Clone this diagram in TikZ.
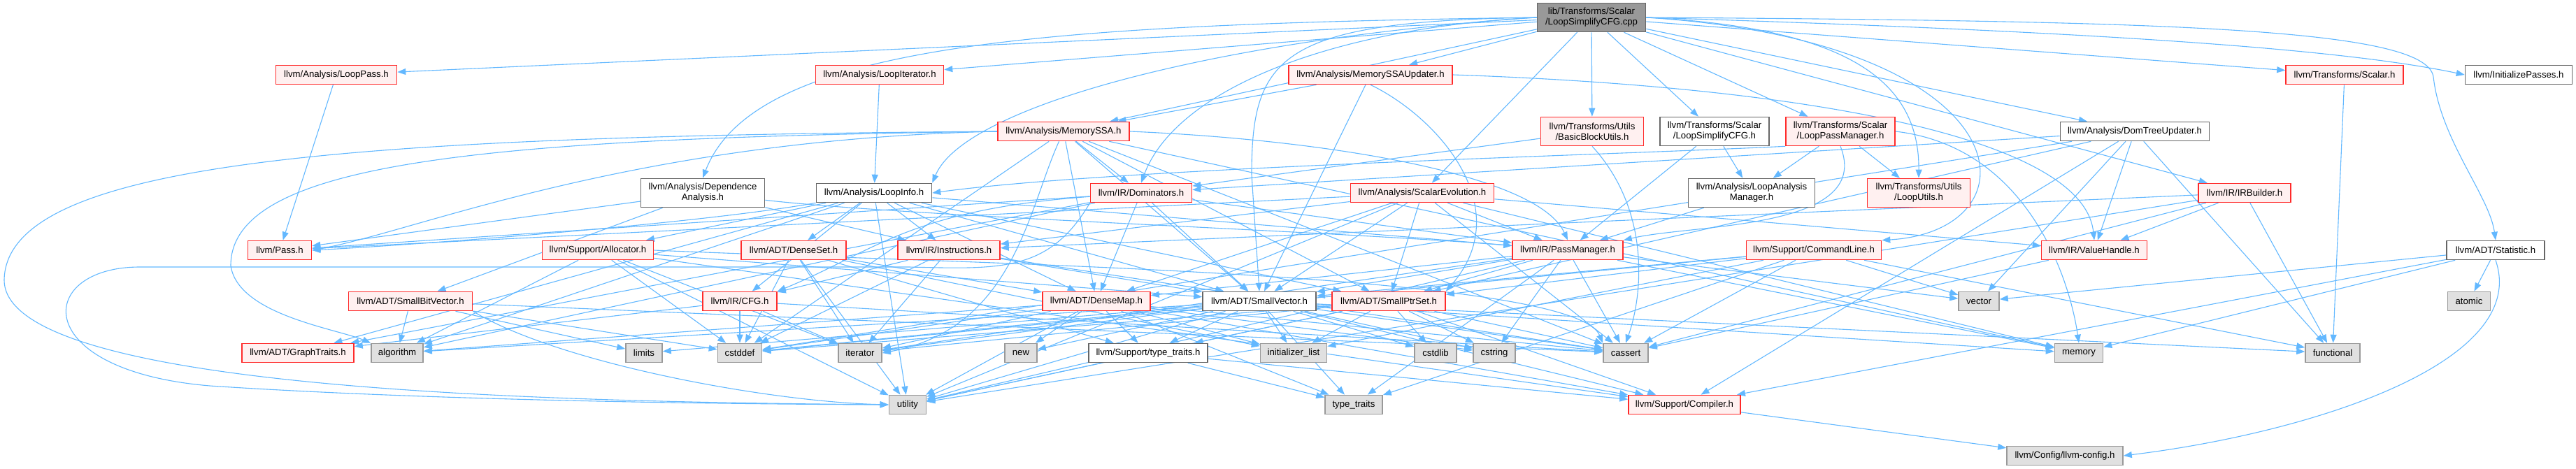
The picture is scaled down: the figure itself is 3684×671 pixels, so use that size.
\documentclass[tikz,border=0pt]{standalone}
\usepackage{fontspec}
\setmainfont{Liberation Sans}
\usetikzlibrary{arrows.meta}
\pgfdeclarelayer{background}
\pgfsetlayers{background,main}
\definecolor{edgecol}{HTML}{63B8FF}
\definecolor{redfill}{HTML}{FFF0F0}
\definecolor{redline}{HTML}{FF2A2A}
\definecolor{grayfill}{HTML}{E0E0E0}
\definecolor{grayline}{HTML}{999999}
\definecolor{darkline}{HTML}{666666}
\definecolor{rootfill}{HTML}{999999}
\begin{document}
\begin{tikzpicture}[x=1pt,y=-1pt,
  font=\fontsize{13.2}{15}\selectfont,
  box/.style={rectangle, inner sep=0pt, minimum height=27pt, line width=1.6pt, align=center, text=black},
  rn/.style={box, draw=redline, fill=redfill},
  gn/.style={box, draw=grayline, fill=grayfill},
  wn/.style={box, draw=darkline, fill=white},
  rootnode/.style={box, draw=darkline, fill=rootfill},
  tall/.style={minimum height=41pt},
  e/.style={draw=edgecol, line width=1.1pt, -{Triangle[length=12pt,width=9pt]}}]
\useasboundingbox (0,0) rectangle (3684,671);
% row 1
\node[rootnode, tall, minimum width=155pt] (root) at (2276,25) {lib/Transforms/Scalar\\/LoopSimplifyCFG.cpp};
% row 2
\node[rn, minimum width=173pt] (LoopPass) at (481,107) {llvm/Analysis/LoopPass.h};
\node[rn, minimum width=183pt] (LoopIterator) at (1258,107) {llvm/Analysis/LoopIterator.h};
\node[rn, minimum width=234pt] (MemorySSAUpdater) at (1960,107) {llvm/Analysis/MemorySSAUpdater.h};
\node[rn, minimum width=168pt] (Scalar) at (3353,107) {llvm/Transforms/Scalar.h};
\node[wn, minimum width=153pt] (InitializePasses) at (3602,107) {llvm/InitializePasses.h};
% row 3
\node[rn, minimum width=188pt] (MemorySSA) at (1521,188) {llvm/Analysis/MemorySSA.h};
\node[rn, tall, minimum width=147pt] (BasicBlockUtils) at (2277,188) {llvm/Transforms/Utils\\/BasicBlockUtils.h};
\node[wn, tall, minimum width=156pt] (LoopSimplifyCFGh) at (2452,188) {llvm/Transforms/Scalar\\/LoopSimplifyCFG.h};
\node[rn, tall, minimum width=156pt] (LoopPassManager) at (2632,188) {llvm/Transforms/Scalar\\/LoopPassManager.h};
\node[wn, minimum width=213pt] (DomTreeUpdater) at (3053,188) {llvm/Analysis/DomTreeUpdater.h};
% row 4
\node[wn, tall, minimum width=177pt] (DependenceAnalysis) at (1005,276) {llvm/Analysis/Dependence\\Analysis.h};
\node[wn, minimum width=165pt] (LoopInfo) at (1250,276) {llvm/Analysis/LoopInfo.h};
\node[rn, minimum width=145pt] (Dominators) at (1632,276) {llvm/IR/Dominators.h};
\node[rn, minimum width=205pt] (ScalarEvolution) at (2034,276) {llvm/Analysis/ScalarEvolution.h};
\node[wn, tall, minimum width=181pt] (LoopAnalysisManager) at (2505,276) {llvm/Analysis/LoopAnalysis\\Manager.h};
\node[rn, tall, minimum width=147pt] (LoopUtils) at (2744,276) {llvm/Transforms/Utils\\/LoopUtils.h};
\node[rn, minimum width=132pt] (IRBuilder) at (3210,276) {llvm/IR/IRBuilder.h};
% row 5
\node[rn, minimum width=91pt] (Pass) at (400,358) {llvm/Pass.h};
\node[rn, minimum width=159pt] (Allocator) at (855,358) {llvm/Support/Allocator.h};
\node[rn, minimum width=150pt] (DenseSet) at (1135,358) {llvm/ADT/DenseSet.h};
\node[rn, minimum width=146pt] (Instructions) at (1357,358) {llvm/IR/Instructions.h};
\node[rn, minimum width=158pt] (PassManager) at (2242,358) {llvm/IR/PassManager.h};
\node[rn, minimum width=193pt] (CommandLine) at (2594,358) {llvm/Support/CommandLine.h};
\node[rn, minimum width=151pt] (ValueHandle) at (2995,358) {llvm/IR/ValueHandle.h};
\node[wn, minimum width=140pt] (Statistic) at (3569,358) {llvm/ADT/Statistic.h};
% row 6
\node[rn, minimum width=177pt] (SmallBitVector) at (587,431) {llvm/ADT/SmallBitVector.h};
\node[rn, minimum width=106pt] (CFG) at (1058,431) {llvm/IR/CFG.h};
\node[rn, minimum width=154pt] (DenseMap) at (1568,431) {llvm/ADT/DenseMap.h};
\node[wn, minimum width=162pt] (SmallVector) at (1801,431) {llvm/ADT/SmallVector.h};
\node[rn, minimum width=162pt] (SmallPtrSet) at (1986,431) {llvm/ADT/SmallPtrSet.h};
\node[gn, minimum width=58pt] (vector) at (2830,431) {vector};
\node[gn, minimum width=61pt] (atomic) at (3531,431) {atomic};
% row 7
\node[rn, minimum width=160pt] (GraphTraits) at (426,505) {llvm/ADT/GraphTraits.h};
\node[gn, minimum width=74pt] (algorithm) at (568,505) {algorithm};
\node[gn, minimum width=52pt] (limits) at (921,505) {limits};
\node[gn, minimum width=63pt] (cstddef) at (1058,505) {cstddef};
\node[gn, minimum width=62pt] (iterator) at (1230,505) {iterator};
\node[gn, minimum width=46pt] (new) at (1460,505) {new};
\node[wn, minimum width=170pt] (typetraitsh) at (1642,505) {llvm/Support/type\_traits.h};
\node[gn, minimum width=95pt] (initlist) at (1850,505) {initializer\_list};
\node[gn, minimum width=60pt] (cstdlib) at (2053,505) {cstdlib};
\node[gn, minimum width=60pt] (cstring) at (2137,505) {cstring};
\node[gn, minimum width=64pt] (cassert) at (2325,505) {cassert};
\node[gn, minimum width=69pt] (memory) at (2973,505) {memory};
\node[gn, minimum width=78pt] (functional) at (3336,505) {functional};
% row 8
\node[gn, minimum width=53pt] (utility) at (1298,579) {utility};
\node[gn, minimum width=82pt] (typetraits) at (1936,579) {type\_traits};
\node[rn, minimum width=160pt] (Compiler) at (2409,579) {llvm/Support/Compiler.h};
% row 9
\node[gn, minimum width=166pt] (llvmconfig) at (2953,652) {llvm/Config/llvm-config.h};

\begin{pgfonlayer}{background}
\foreach \s/\t in {root/LoopPass, root/LoopIterator, root/MemorySSAUpdater, root/MemorySSA, root/ScalarEvolution, root/BasicBlockUtils, root/LoopSimplifyCFGh, root/LoopPassManager, root/DomTreeUpdater, root/IRBuilder, root/Scalar,
LoopPass/Pass, LoopIterator/LoopInfo,
MemorySSAUpdater/MemorySSA, MemorySSAUpdater/SmallVector,
MemorySSA/Dominators, MemorySSA/DenseMap, MemorySSA/SmallPtrSet, MemorySSA/SmallVector, MemorySSA/cassert, MemorySSA/cstddef, MemorySSA/memory,
DomTreeUpdater/Dominators, DomTreeUpdater/SmallPtrSet, DomTreeUpdater/ValueHandle, DomTreeUpdater/Compiler, DomTreeUpdater/cstddef, DomTreeUpdater/functional, DomTreeUpdater/vector,
DependenceAnalysis/SmallBitVector, DependenceAnalysis/Instructions, DependenceAnalysis/Pass,
LoopInfo/DenseMap, LoopInfo/DenseSet, LoopInfo/GraphTraits, LoopInfo/SmallPtrSet, LoopInfo/SmallVector, LoopInfo/CFG, LoopInfo/Instructions, LoopInfo/PassManager, LoopInfo/Allocator, LoopInfo/algorithm, LoopInfo/utility,
Dominators/DenseMap, Dominators/GraphTraits, Dominators/SmallVector, Dominators/PassManager, Dominators/Pass, Dominators/algorithm,
ScalarEvolution/DenseMap, ScalarEvolution/SmallPtrSet, ScalarEvolution/SmallVector, ScalarEvolution/Instructions, ScalarEvolution/PassManager, ScalarEvolution/ValueHandle, ScalarEvolution/Pass, ScalarEvolution/cassert, ScalarEvolution/memory, ScalarEvolution/utility,
BasicBlockUtils/Dominators,
LoopSimplifyCFGh/PassManager, LoopSimplifyCFGh/LoopAnalysisManager,
LoopPassManager/LoopAnalysisManager, LoopPassManager/LoopUtils,
LoopAnalysisManager/PassManager,
IRBuilder/Instructions, IRBuilder/ValueHandle, IRBuilder/cassert, IRBuilder/functional, IRBuilder/utility,
Scalar/functional,
Statistic/vector, Statistic/memory, Statistic/atomic, Statistic/Compiler,
Allocator/SmallVector, Allocator/Compiler, Allocator/algorithm, Allocator/cstddef, Allocator/iterator, Allocator/utility,
DenseSet/DenseMap, DenseSet/typetraitsh, DenseSet/cstddef, DenseSet/initlist, DenseSet/iterator, DenseSet/utility,
Instructions/SmallVector, Instructions/CFG, Instructions/cassert, Instructions/cstddef, Instructions/iterator,
PassManager/DenseMap, PassManager/SmallPtrSet, PassManager/SmallVector, PassManager/cassert, PassManager/cstring, PassManager/iterator, PassManager/memory, PassManager/typetraits, PassManager/utility, PassManager/vector,
CommandLine/SmallPtrSet, CommandLine/SmallVector, CommandLine/cassert, CommandLine/cstddef, CommandLine/functional, CommandLine/initlist, CommandLine/typetraits, CommandLine/vector,
ValueHandle/cassert,
SmallBitVector/algorithm, SmallBitVector/cassert, SmallBitVector/cstddef, SmallBitVector/limits,
CFG/GraphTraits, CFG/cassert, CFG/cstddef, CFG/iterator,
DenseMap/Compiler, DenseMap/typetraitsh, DenseMap/algorithm, DenseMap/cassert, DenseMap/cstddef, DenseMap/cstring, DenseMap/initlist, DenseMap/iterator, DenseMap/new, DenseMap/typetraits, DenseMap/utility,
SmallVector/Compiler, SmallVector/typetraitsh, SmallVector/algorithm, SmallVector/cassert, SmallVector/cstddef, SmallVector/cstdlib, SmallVector/cstring, SmallVector/functional, SmallVector/initlist, SmallVector/iterator, SmallVector/limits, SmallVector/memory, SmallVector/new, SmallVector/typetraits, SmallVector/utility,
SmallPtrSet/Compiler, SmallPtrSet/typetraitsh, SmallPtrSet/cassert, SmallPtrSet/cstddef, SmallPtrSet/cstdlib, SmallPtrSet/cstring, SmallPtrSet/initlist, SmallPtrSet/iterator, SmallPtrSet/utility,
typetraitsh/Compiler, typetraitsh/typetraits, typetraitsh/utility,
Compiler/llvmconfig}
  \draw[e] (\s) -- (\t);
% curved routes from the root
\draw[e] (root.east) .. controls (3000,45) and (3350,70) .. (InitializePasses.west);
\draw[e] (root.east) .. controls (3100,30) and (3470,40) .. (3480,110) .. controls (3490,200) and (3560,280) .. (Statistic.north);
\draw[e] (root.east) .. controls (2900,60) and (2920,330) .. (CommandLine.north east);
\draw[e] (root.east) .. controls (2650,40) and (2745,120) .. (LoopUtils.north);
\draw[e] (root.west) .. controls (1900,40) and (1680,130) .. (Dominators.north);
\draw[e] (root.west) .. controls (1830,30) and (1790,80) .. (1790,250) -- (SmallVector.north);
\draw[e] (root.west) .. controls (1750,55) and (1380,150) .. (LoopInfo.north east);
\draw[e] (root.west) .. controls (1500,35) and (1080,60) .. (DependenceAnalysis.north);
% other curved routes
\draw[e] (MemorySSA.west) .. controls (500,195) and (10,230) .. (6,400) .. controls (4,560) and (800,575) .. (utility.west);
\draw[e] (MemorySSA.west) .. controls (700,198) and (330,230) .. (330,380) .. controls (340,450) and (480,470) .. (algorithm.north west);
\draw[e] (MemorySSA.west) .. controls (900,200) and (600,330) .. (Pass.east);
\draw[e] (MemorySSA.east) .. controls (1900,200) and (2200,250) .. (PassManager.north);
\draw[e] (MemorySSA) .. controls (1470,300) and (1450,470) .. (iterator.east);
\draw[e] (Dominators.south west) .. controls (1500,390) and (1430,385) .. (1300,382) -- (200,382) .. controls (50,382) and (40,530) .. (300,552) .. controls (600,572) and (1000,578) .. (utility.west);
\draw[e] (Dominators) .. controls (1300,300) and (1250,360) .. (CFG.north east);
\draw[e] (MemorySSAUpdater.east) .. controls (2600,125) and (2980,200) .. (ValueHandle.north);
\draw[e] (MemorySSAUpdater.south) .. controls (2060,170) and (2170,300) .. (SmallPtrSet.north east);
\draw[e] (DependenceAnalysis) .. controls (1300,310) and (1900,330) .. (PassManager);
\draw[e] (LoopInfo.south west) .. controls (1000,320) and (600,350) .. (Pass.east);
\draw[e] (BasicBlockUtils.south) .. controls (2360,300) and (2350,420) .. (cassert.north);
\draw[e] (LoopPassManager.south) .. controls (2680,330) and (2420,320) .. (PassManager.north east);
\draw[e] (LoopPassManager.south west) .. controls (2300,222) and (1600,240) .. (LoopInfo.east);
\draw[e] (LoopPassManager.east) .. controls (2900,210) and (2960,400) .. (memory.north);
\draw[e] (Statistic.south) .. controls (3620,520) and (3300,620) .. (llvmconfig.east);
\draw[e] (Allocator.east) .. controls (1400,378) and (2250,390) .. (cassert.north west);
\draw[e] (SmallBitVector.south east) .. controls (800,520) and (1100,575) .. (utility.west);
\end{pgfonlayer}
\end{tikzpicture}
\end{document}
